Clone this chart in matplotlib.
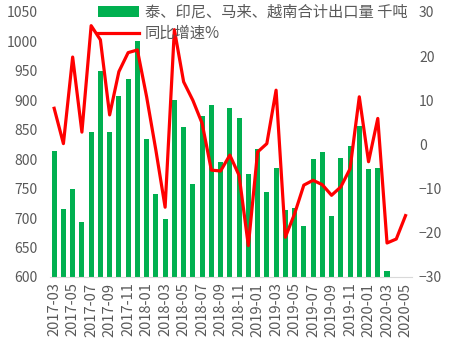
import numpy as np
import pandas as pd
import matplotlib
matplotlib.use("Agg")
import matplotlib.pyplot as plt

plt.rcParams['font.family'] = ['Noto Sans CJK SC', 'DejaVu Sans']

months = pd.date_range('2017-03', '2020-05', freq='MS').strftime('%Y-%m').tolist()

# 出口量 千吨 (2020-04, 2020-05 无数据)
volume = [814, 715, 750, 693, 846, 950, 846, 908, 936, 1001,
          834, 741, 699, 901, 855, 758, 873, 892, 795, 887,
          870, 775, 817, 744, 785, 714, 717, 686, 800, 812,
          703, 802, 823, 857, 784, 785, 610, np.nan, np.nan]
# 同比增速 %
yoy = [8.2, 0.2, 19.8, 2.8, 26.9, 23.7, 6.7, 16.5, 20.8, 21.4,
       10.8, -1.3, -14.2, 26.0, 14.2, 10.0, 4.8, -5.8, -6.0, -2.4,
       -7.0, -22.9, -1.7, 0.2, 12.3, -21.0, -15.7, -9.2, -8.1, -9.1,
       -11.5, -9.6, -5.5, 10.8, -3.9, 5.9, -22.3, -21.4, -16.1]

gray = '#595959'
x = np.arange(len(months))

fig = plt.figure(figsize=(4.58, 3.54), dpi=100)
ax = fig.add_axes([50/458, 1-277/354, 362/458, 265/354])
ax2 = ax.twinx()

bars = ax.bar(x, volume, width=0.55, color='#00B050', label='泰、印尼、马来、越南合计出口量 千吨')
line, = ax2.plot(x, yoy, color='#FF0000', lw=2.3, label='同比增速%')

ax.set_ylim(600, 1050)
ax.set_yticks(range(600, 1051, 50))
ax2.set_ylim(-30, 30)
ax2.set_yticks(range(-30, 31, 10))
ax.set_xlim(-0.45, 38.7)
ax.set_xticks(x[::2])
ax.set_xticklabels(months[::2], rotation=90)

for a in (ax, ax2):
    for s in a.spines.values():
        s.set_visible(False)
    a.tick_params(length=0, colors=gray, labelsize=10)
ax.spines['bottom'].set_visible(True)
ax.spines['bottom'].set_color('#D9D9D9')
ax.tick_params(axis='y', pad=9)
ax2.tick_params(axis='y', pad=5)
ax.tick_params(axis='x', labelsize=10.5, pad=4)

fig.legend(handles=[bars, line], loc='upper left', bbox_to_anchor=(98/458, 0.99),
           frameon=False, fontsize=11, handlelength=2.7, handleheight=0.7,
           handletextpad=0.35, labelspacing=0.3, borderaxespad=0, borderpad=0,
           labelcolor=gray)

fig.savefig('out.png', dpi=100)
